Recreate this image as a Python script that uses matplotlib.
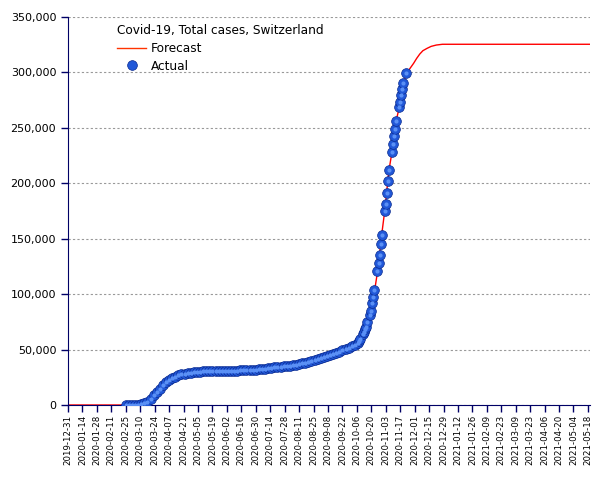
import numpy as np
import pandas as pd
import matplotlib
matplotlib.use('Agg')
import matplotlib.pyplot as plt
from matplotlib.lines import Line2D

# actual totals, every 3 days from 2020-02-25 to 2020-10-07
early_start = '2020-02-25'
early_vals = [1, 8, 24, 90, 340, 650, 1360, 2700, 5300, 8800,
              11800, 14800, 17800, 20500, 22200, 24300, 25600, 26700, 27700, 28300,
              28900, 29300, 29700, 30000, 30100, 30300, 30400, 30500, 30600, 30700,
              30750, 30800, 30850, 30900, 30950, 31000, 31100, 31150, 31250, 31300,
              31400, 31600, 31800, 32100, 32400, 32800, 33200, 33600, 33900, 34200,
              34500, 34800, 35200, 35600, 36100, 36500, 37000, 37600, 38200, 39000,
              39800, 40600, 41500, 42500, 43500, 44500, 45500, 46400, 47200, 48200,
              49300, 50500, 51800, 53000, 54500, 56000]

# weekday reports from 2020-10-08 to 2020-11-23
late_start = '2020-10-08'
late_end = '2020-11-23'
late_vals = [57800, 59500,
             63800, 65900, 68200, 70600, 74600,
             81200, 85100, 91700, 97700, 103600,
             121100, 127800, 135600, 145200, 153600,
             175000, 181600, 191500, 202300, 211700,
             228500, 235200, 242700, 249300, 256500,
             268500, 273600, 279900, 284800, 290200,
             299200]

fc_dates = ['2019-12-31', '2020-02-20', '2020-03-01', '2020-03-05', '2020-03-10',
            '2020-03-15', '2020-03-20', '2020-03-25', '2020-03-30', '2020-04-04',
            '2020-04-09', '2020-04-14', '2020-04-19', '2020-04-24', '2020-04-29',
            '2020-05-09', '2020-05-19', '2020-06-01', '2020-06-15', '2020-06-29',
            '2020-07-13', '2020-07-27', '2020-08-10', '2020-08-24', '2020-09-07',
            '2020-09-21', '2020-10-01', '2020-10-08', '2020-10-13', '2020-10-16',
            '2020-10-20', '2020-10-23', '2020-10-26', '2020-10-30', '2020-11-02',
            '2020-11-06', '2020-11-09', '2020-11-13', '2020-11-16', '2020-11-20',
            '2020-11-23', '2020-11-30', '2020-12-03', '2020-12-06', '2020-12-09',
            '2020-12-13', '2020-12-17', '2020-12-22', '2020-12-28', '2021-05-20']
fc_vals = [0, 0, 40, 200, 700,
           2000, 4800, 9500, 14500, 19000,
           22500, 25000, 26800, 28000, 28900,
           29900, 30400, 30800, 31100, 31800,
           33000, 34600, 36500, 39500, 43500,
           48500, 52500, 57500, 64000, 72000,
           86000, 102000, 120000, 153000, 175000,
           211000, 228000, 256000, 268000, 289000,
           299000, 308200, 312700, 316600, 319600,
           321700, 323500, 324700, 325400, 325400]

title = 'Covid-19, Total cases, Switzerland'
y_ticks = [0, 50000, 100000, 150000, 200000, 250000, 300000, 350000]

early_dates = pd.date_range(early_start, periods=len(early_vals), freq='3D')
late_dates = pd.bdate_range(late_start, late_end)
act_dates = early_dates.append(late_dates)
act_vals = early_vals + late_vals

x_ticks = pd.date_range('2019-12-31', '2021-05-18', freq='14D')

navy = '#000066'
fig = plt.figure(figsize=(6.05, 4.80), dpi=100)
ax = fig.add_axes([68 / 605, 75 / 480, 522 / 605, 388 / 480])

ax.plot(pd.to_datetime(fc_dates), fc_vals, color='#ff0000', lw=1, zorder=2)
ax.plot(act_dates, act_vals, ls='none', marker='o', ms=7, mfc='#2158d8',
        mec='#0a2a90', mew=0.5, zorder=3)
ax.plot(act_dates, act_vals, ls='none', marker='o', ms=3, mfc='#5a90f5',
        mec='none', zorder=3)

ax.set_xlim(pd.Timestamp('2019-12-31'), pd.Timestamp('2021-05-20'))
ax.set_ylim(0, 350000)
ax.set_yticks(y_ticks)
ax.set_yticklabels(['{:,}'.format(v) for v in y_ticks], fontsize=8)
ax.set_xticks(x_ticks)
ax.set_xticklabels([d.strftime('%Y-%m-%d') for d in x_ticks], rotation=90, fontsize=6.2)
ax.tick_params(axis='both', color=navy, length=5, width=1)
ax.tick_params(axis='x', pad=2)
ax.grid(axis='y', color='#999999', ls=(0, (2, 2)), lw=0.8)
ax.set_axisbelow(True)
for s in ['top', 'right']:
    ax.spines[s].set_visible(False)
for s in ['left', 'bottom']:
    ax.spines[s].set_color(navy)

handles = [Line2D([], [], color='#ff3300', lw=1),
           Line2D([], [], ls='none', marker='o', ms=7, mfc='#2158d8', mec='#0a2a90', mew=0.5)]
leg = ax.legend(handles, ['Forecast', 'Actual'], title=title, frameon=False,
                loc='upper left', bbox_to_anchor=(117 / 605, 1 - 24 / 480),
                bbox_transform=fig.transFigure, fontsize=8.7, title_fontsize=8.7,
                alignment='left', borderpad=0, borderaxespad=0, handlelength=2.4,
                handletextpad=0.4, labelspacing=0.4)

fig.savefig('out.png', dpi=100)
